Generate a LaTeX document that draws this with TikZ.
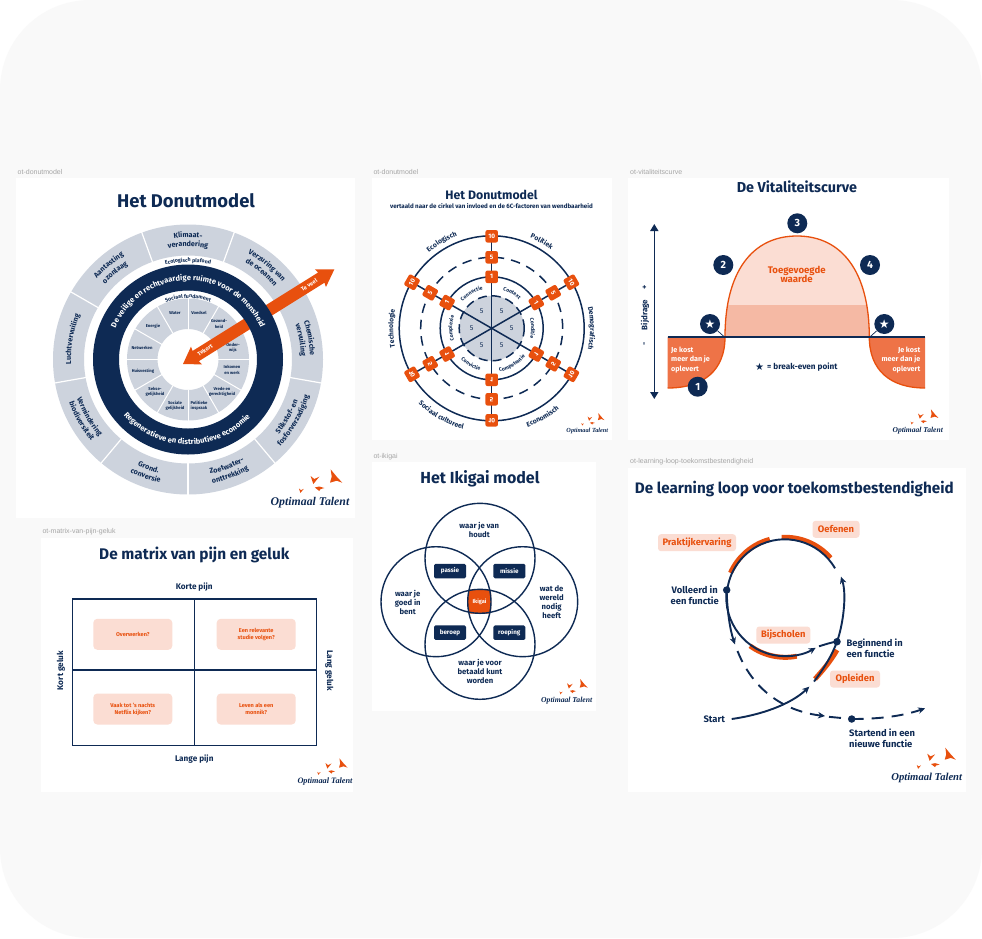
\documentclass[tikz,border=0pt]{standalone}
\usepackage{fontspec}
\setmainfont{Fira Sans}
\newfontfamily\djv{DejaVu Sans}
\newfontfamily\labf{Liberation Sans}
\newfontfamily\logof{Liberation Serif}
\usetikzlibrary{decorations.text,arrows.meta}
\definecolor{navy}{HTML}{0E2A54}
\definecolor{org}{HTML}{E8500E}
\definecolor{orgm}{HTML}{EE7347}
\definecolor{gr}{HTML}{CDD3DD}
\definecolor{peach}{HTML}{FBDDD3}
\definecolor{peachd}{HTML}{F5B9A4}
\definecolor{bgc}{HTML}{F9F9F9}
\newcommand{\fz}[2]{\fontsize{#1}{#2}\selectfont}
\newcommand{\topt}[7]{\path[decorate,decoration={text along path,text align=center,text={|#6|#7}}] ([shift={(#1,#2)}]#4+#5:#3) arc[start angle=#4+#5,end angle=#4-#5,radius=#3];}
\newcommand{\bott}[7]{\path[decorate,decoration={text along path,text align=center,text={|#6|#7}}] ([shift={(#1,#2)}]#4-#5:#3) arc[start angle=#4-#5,end angle=#4+#5,radius=#3];}
\newcommand{\logo}[4]{\begin{scope}[shift={(#1,-#2)},scale=#3,transform shape]
\node[text=navy,font=\logof\bfseries\itshape\fz{11.8}{12}] (logo#4) at (0,0) {Optimaal Talent};
\fill[org,shift={(26,26)}] (-5.3,7.3) -- (.7,0) -- (6.3,-6) -- (.7,-4) -- (-6,-6) -- (-4.3,0) -- cycle;
\fill[org,shift={(4.3,22.7)}] (-3.7,4) -- (0,1) -- (5,3.3) -- (-1,-4) -- cycle;
\fill[org,shift={(9.3,13.7)}] (-4.5,1.5) -- (0,2.5) -- (5,1) -- (1,-.2) -- (0,-2) -- cycle;
\fill[org,shift={(-9,12)},scale=.55] (-3.7,4) -- (0,1) -- (5,3.3) -- (-1,-4) -- cycle;
\end{scope}}
\tikzset{
 panel/.style={fill=white,draw=none},
 plabel/.style={anchor=west,text=black!35,font=\labf\fz{7}{8},inner sep=0},
 ttl/.style={text=navy,font=\bfseries\fz{#1}{#1},inner sep=0},
 nav/.style={text=navy,font=\bfseries\fz{#1}{#1},inner sep=0},
 seg/.style={text=navy,font=\bfseries\fz{4.2}{5.3},align=center,inner sep=0},
 sep/.style={draw=white,line width=1.2pt},
 navyline/.style={draw=navy,line width=1.9pt},
 badge/.style={circle,fill=navy,text=white,minimum size=20pt,inner sep=0,font=\bfseries\fz{10.5}{10}},
 ikibox/.style={fill=navy,text=white,rounded corners=1.5pt,minimum width=32pt,minimum height=14.5pt,inner sep=0,font=\bfseries\fz{6.3}{7}},
 pbox/.style={fill=peach,text=org,rounded corners=3pt,minimum height=17pt,inner sep=0,font=\bfseries\fz{9.4}{9}},
 mbox/.style={fill=peach,text=org,rounded corners=4pt,minimum width=79pt,minimum height=31pt,inner sep=0,align=center,font=\bfseries\fz{5.6}{7}},
 loopdot/.style={circle,fill=navy,minimum size=7.5pt,inner sep=0},
 wheel/.style={rounded corners=2pt,fill=org,text=white,minimum size=12.5pt,inner sep=0,font=\bfseries\fz{6.4}{6}},
 arrowl/.style={navyline,-{Stealth[length=7pt,width=6.5pt]}},
 dashl/.style={navyline,dash pattern=on 12pt off 8pt},
}
\begin{document}
\begin{tikzpicture}[x=1pt,y=1pt]
\useasboundingbox (0,-938) rectangle (982,0);
\fill[white] (0,-938) rectangle (982,0);
\fill[bgc,rounded corners=90pt] (0,-938) rectangle (982,0);
% panels
\fill[panel] (16,-178) rectangle (355,-518);
\fill[panel] (372,-178) rectangle (612,-440);
\fill[panel] (628,-178) rectangle (949,-440);
\fill[panel] (372,-462) rectangle (596,-711);
\fill[panel] (628,-468) rectangle (966,-792);
\fill[panel] (41,-538) rectangle (353,-792);
\node[plabel] (l1) at (17.5,-171.7) {ot-donutmodel};
\node[plabel] (l2) at (373.3,-171.7) {ot-donutmodel};
\node[plabel] (l3) at (630,-171.7) {ot-vitaliteitscurve};
\node[plabel] (l4) at (373.3,-456.7) {ot-ikigai};
\node[plabel] (l5) at (630,-461.3) {ot-learning-loop-toekomstbestendigheid};
\node[plabel] (l6) at (42.3,-531.3) {ot-matrix-van-pijn-geluk};
%%%%%% Donut 1
\node[ttl=18.4] (t1) at (186,-201) {Het Donutmodel};
\begin{scope}[shift={(188,-359.5)}]
\fill[gr,even odd rule] (0,0) circle (135) (0,0) circle (104);
\foreach \a in {110,70,30,-10,-50,-90,-130,-170,150} \draw[sep] (\a:103) -- (\a:136);
\fill[gr,even odd rule] (0,0) circle (61) (0,0) circle (30.5);
\foreach \a in {0,30,...,330} \draw[sep,line width=1pt] (\a:30) -- (\a:62);
\end{scope}
\node[seg] (s1) at (175,-313) {Water};
\node[seg] (s2) at (199,-313) {Voedsel};
\node[seg] (s3) at (219,-324) {Gezond-\\heid};
\node[seg] (s4) at (233,-348) {Onder-\\wijs};
\node[seg] (s5) at (232,-370) {Inkomen\\en werk};
\node[seg] (s6) at (222,-392) {Vrede en\\gerechtigheid};
\node[seg] (s7) at (199,-406) {Politieke\\inspraak};
\node[seg] (s8) at (175,-406) {Sociale\\gelijkheid};
\node[seg] (s9) at (155,-392) {Sekse-\\gelijkheid};
\node[seg] (s10) at (143,-371) {Huisvesting};
\node[seg] (s11) at (142,-348) {Netwerken};
\node[seg] (s12) at (153,-326) {Energie};
\begin{scope}[shift={(183,-364)},rotate=32]
\fill[org] (0,0) -- (16,10.5) -- (15,6) -- (163,6) -- (162,10.5) -- (178.4,0) -- (162,-10.5) -- (163,-6) -- (15,-6) -- (16,-10.5) -- cycle;
\end{scope}
\fill[navy,even odd rule] (188,-359.5) circle (95) (188,-359.5) circle (69);
\def\fO{\bfseries\fz{7.2}{8}\color{navy}}
\def\fW{\bfseries\fz{7.6}{8}\color{white}}
\def\fS{\bfseries\fz{5.3}{6}\color{navy}}
\topt{188}{-359.5}{122}{90}{19}{\fO}{Klimaat-}
\topt{188}{-359.5}{113}{90}{19}{\fO}{verandering}
\topt{188}{-359.5}{122}{50}{19}{\fO}{Verzuring van}
\topt{188}{-359.5}{113}{50}{19}{\fO}{de oceanen}
\topt{188}{-359.5}{122}{10}{19}{\fO}{Chemische}
\topt{188}{-359.5}{113}{10}{19}{\fO}{vervuiling}
\bott{188}{-359.5}{117.5}{-30}{19}{\fO}{Stikstof- en}
\bott{188}{-359.5}{126.5}{-30}{19}{\fO}{fosforverzadiging}
\bott{188}{-359.5}{116.5}{-70}{19}{\fO}{Zoetwater-}
\bott{188}{-359.5}{126}{-70}{19}{\fO}{onttrekking}
\bott{188}{-359.5}{117.5}{-110}{19}{\fO}{Grond.}
\bott{188}{-359.5}{126.5}{-110}{19}{\fO}{conversie}
\bott{188}{-359.5}{117.5}{-150}{19}{\fO}{Vermindering}
\bott{188}{-359.5}{126.5}{-150}{19}{\fO}{biodiversiteit}
\topt{188}{-359.5}{117}{170}{19}{\fO}{Luchtvervuiling}
\topt{188}{-359.5}{122}{130}{19}{\fO}{Aantasting}
\topt{188}{-359.5}{112}{130}{19}{\fO}{ozonlaag}
\topt{188}{-359.5}{97.5}{90}{30}{\fS}{Ecologisch plafond}
\topt{188}{-359.5}{61.5}{90}{50}{\fS}{Sociaal fundament}
\topt{188}{-359.5}{79}{90}{75}{\fW}{De veilige en rechtvaardige ruimte voor de mensheid}
\bott{188}{-359.5}{85}{-91}{60}{\fW}{Regeneratieve en distributieve economie}
\node[rotate=32,text=white,font=\bfseries\fz{5.6}{6},inner sep=0] (tv) at (309,-285) {Te veel};
\node[rotate=32,text=white,font=\bfseries\fz{5.6}{6},inner sep=0] (tk) at (205,-350) {Tekort};
\logo{310}{502.7}{1}{a}
%%%%%% Donut 2
\node[ttl=12.3] (t2) at (491.5,-195) {Het Donutmodel};
\node[nav=6.2] (t2b) at (491.5,-206) {vertaald naar de cirkel van invloed en de 6C-factoren van wendbaarheid};
\begin{scope}[shift={(491.7,-328.3)}]
\coordinate (dc) at (0,0);
\fill[gr] (0,0) circle (32.5);
\draw[navy,line width=1.5pt,dash pattern=on 9pt off 5pt] (0,0) circle (32.5);
\draw[navy,line width=1.5pt] (0,0) circle (51.5);
\draw[navy,line width=1.5pt,dash pattern=on 9.5pt off 7pt] (0,0) circle (71);
\draw[navy,line width=1.5pt] (0,0) circle (92.5);
\foreach \a in {90,30,150,-90,-30,-150} {\coordinate (e\a) at (\a:92); \draw[navy,line width=1.5pt] (dc) -- (e\a);}
\foreach \a/\rt/\ys in {90/0/1,30/-60/1,150/60/1,-90/0/-1,-30/-60/-1,-150/60/-1} {
 \foreach \r/\v in {92/10,71/5,51.5/1} {
  \node[wheel,yscale=\ys,rotate=\rt] (n\a-\v) at (\a:\r) {\v};
 }
}
\foreach \a in {120,60,0,-60,-120,180} \node[text=navy,font=\fz{7}{7},inner sep=0] (f\a) at (\a:20) {5};
\end{scope}
\def\fC{\bfseries\fz{5.2}{6}\color{navy}}
\def\fD{\bfseries\fz{6.8}{7}\color{navy}}
\topt{491.7}{-328.3}{39.5}{120}{29}{\fC}{Connectie}
\topt{491.7}{-328.3}{39.5}{60}{29}{\fC}{Context}
\topt{491.7}{-328.3}{39.5}{0}{29}{\fC}{Conditie}
\topt{491.7}{-328.3}{39.5}{180}{29}{\fC}{Complexie}
\bott{491.7}{-328.3}{44}{-60}{29}{\fC}{Competentie}
\bott{491.7}{-328.3}{44}{-120}{29}{\fC}{Convictie}
\topt{491.7}{-328.3}{98.5}{120}{29}{\fD}{Ecologisch}
\topt{491.7}{-328.3}{98.5}{60}{29}{\fD}{Politiek}
\topt{491.7}{-328.3}{98.5}{0}{29}{\fD}{Demografisch}
\topt{491.7}{-328.3}{98.5}{180}{29}{\fD}{Technologie}
\bott{491.7}{-328.3}{105}{-60}{29}{\fD}{Economisch}
\bott{491.7}{-328.3}{105}{-120}{29}{\fD}{Sociaal cultureel}
\logo{587.3}{430.7}{.53}{b}
%%%%%% Vitaliteitscurve
\node[ttl=14.4] (t3) at (797,-187) {De Vitaliteitscurve};
\def\dome{(725,-337) .. controls (725,-272) and (752,-236) .. (797,-236) .. controls (842,-236) and (869.3,-272) .. (869.3,-337)}
\fill[orgm] (667.7,-337) -- (667.7,-388) .. controls (704,-388) and (725,-370) .. (725,-337) -- cycle;
\fill[orgm] (925,-337) -- (925,-388) .. controls (890,-388) and (869.3,-370) .. (869.3,-337) -- cycle;
\fill[peach] \dome -- cycle;
\begin{scope}
\clip (700,-305) rectangle (900,-337);
\fill[peachd] \dome -- cycle;
\end{scope}
\draw[org,line width=1.3pt] (667.7,-388) .. controls (704,-388) and (725,-370) .. \dome .. controls (869.3,-370) and (890,-388) .. (925,-388);
\coordinate (bl0) at (667.7,-337);
\coordinate (bl1) at (925,-337);
\draw[navy,line width=1.4pt] (bl0) -- (bl1);
\coordinate (beL) at (724.5,-337);
\coordinate (beR) at (869.8,-337);
\node[badge] (b3) at (797.3,-223.3) {3};
\node[badge] (b2) at (723.3,-265) {2};
\node[badge] (b4) at (870,-265) {4};
\node[badge] (b1) at (697.7,-386.7) {1};
\node[badge,font=\djv\fz{12}{12}] (bsL) at (710,-324) {★};
\node[badge,font=\djv\fz{12}{12}] (bsR) at (884.3,-324) {★};
\draw[navy,line width=.7pt] (bsL) -- (beL);
\draw[navy,line width=.7pt] (bsR) -- (beR);
\node[align=center,text=org,font=\bfseries\fz{9.6}{9.5},inner sep=0] (tw) at (796.7,-274.3) {Toegevoegde\\waarde};
\node[align=left,anchor=north west,text=white,font=\bfseries\fz{7.2}{9.2},inner sep=0] (jk1) at (671,-347) {Je kost\\meer dan je\\oplevert};
\node[align=right,anchor=north east,text=white,font=\bfseries\fz{7.2}{9.2},inner sep=0] (jk2) at (920.5,-347) {Je kost\\meer dan je\\oplevert};
\node[text=navy,font=\djv\fz{10}{10},inner sep=0] (bs) at (759.5,-367) {★};
\node[nav=8.2,anchor=west] (be) at (767,-367) {= break-even point};
\coordinate (va) at (654.3,-224);
\coordinate (vb) at (654.3,-399);
\draw[navy,line width=1.5pt,{Triangle[length=7pt,width=8pt]}-{Triangle[length=7pt,width=8pt]}] (va) -- (vb);
\node[nav=8,rotate=90] (bp) at (645,-287) {+};
\node[nav=8,rotate=90] (bd) at (645,-315) {Bijdrage};
\node[nav=8,rotate=90] (bm) at (645,-344) {-};
\logo{917.7}{430.7}{.64}{c}
%%%%%% Ikigai
\node[ttl=16] (t4) at (480,-479) {Het Ikigai model};
\node[fill=org,rounded corners=3pt,minimum width=23pt,minimum height=24pt,inner sep=0,text=white,font=\bfseries\fz{5.6}{6}] (iki) at (479.5,-601.7) {Ikigai};
\foreach \n/\x/\y in {c1/480/558.3,c2/480/644.3,c3/436/601.7,c4/522.7/601.7} \node[circle,draw=navy,line width=1.4pt,minimum size=110pt,inner sep=0,outer sep=0] (\n) at (\x,-\y) {};
\node[ikibox] (i1) at (450,-571) {passie};
\node[ikibox] (i2) at (509.3,-571) {missie};
\node[ikibox] (i3) at (450,-632.7) {beroep};
\node[ikibox] (i4) at (509.3,-632.7) {roeping};
\tikzset{ikil/.style={text=navy,align=center,inner sep=0,font=\bfseries\fz{7.7}{9.2}}}
\node[ikil] (w1) at (479.3,-530.3) {waar je van\\houdt};
\node[ikil] (w2) at (407.7,-602.3) {waar je\\goed in\\bent};
\node[ikil] (w3) at (551.7,-602.3) {wat de\\wereld\\nodig\\heeft};
\node[ikil] (w4) at (480,-671.7) {waar je voor\\betaald kunt\\worden};
\logo{566.7}{700.7}{.65}{d}
%%%%%% Learning loop
\node[ttl=15.2] (t5) at (794.3,-489) {De learning loop voor toekomstbestendigheid};
\coordinate (cc) at (785.3,-597.3);
% orange arcs
\draw[org,line width=5pt] ([shift={(785.3,-597.3)}]156:60) arc[start angle=156,end angle=105,radius=60];
\draw[org,line width=5pt] ([shift={(785.3,-597.3)}]93.5:60) arc[start angle=93.5,end angle=41,radius=60];
\draw[org,line width=5pt] ([shift={(785.3,-597.3)}]-126:60) arc[start angle=-126,end angle=-79,radius=60];
\draw[org,line width=5pt] (837,-650) .. controls (830,-662) and (823,-670) .. (815,-679);
\node[loopdot] (dA) at (726.7,-590) {};
\node[loopdot] (dB) at (837,-641.7) {};
\node[loopdot] (dC) at (851.7,-719) {};
\coordinate (s0) at (731.7,-719);
\coordinate (s1) at (809.3,-686.7);
\coordinate (s2) at (814,-681.5);
\coordinate (s3) at (841,-576.7);
\coordinate (s4) at (835,-568.3);
\coordinate (s5) at (815.7,-647.7);
\coordinate (s6) at (819,-646.3);
\coordinate (s7) at (735,-644.3);
\coordinate (s8) at (737.5,-651);
\coordinate (s9) at (825,-716);
\coordinate (s10) at (829,-716.8);
\coordinate (s11) at (925,-708.3);
\draw[arrowl] (s0) .. controls (760,-715) and (790,-705) .. (s1);
\draw[navyline] (s2) .. controls (825,-667) and (832,-655) .. (dB.center);
\draw[arrowl] (dB.center) .. controls (843,-625) and (847,-595) .. (s3);
\draw[navyline] (s4) arc[start angle=30,end angle=173,radius=58];
\draw[arrowl] (dA.center) arc[start angle=173,end angle=301,radius=59];
\draw[navyline] (s6) .. controls (825,-644.5) and (832,-642) .. (dB.center);
\draw[arrowl] (dA.center) .. controls (727,-610) and (730,-630) .. (s7);
\draw[dashl,-{Stealth[length=7pt,width=6.5pt]}] (s8) .. controls (755,-695) and (790,-712) .. (s9);
\draw[dashl] (s10) -- (dC.center);
\draw[dashl,-{Stealth[length=7pt,width=6.5pt]}] (dC.center) .. controls (875,-719) and (900,-717) .. (s11);
\node[pbox,minimum width=78pt] (o1) at (697,-542.7) {Praktijkervaring};
\node[pbox,minimum width=47pt] (o2) at (836,-529.3) {Oefenen};
\node[pbox,minimum width=54pt] (o3) at (783.3,-635) {Bijscholen};
\node[pbox,minimum width=50pt] (o4) at (855,-679) {Opleiden};
\tikzset{lt/.style={text=navy,inner sep=0,font=\bfseries\fz{9.4}{11}}}
\node[lt,align=center] (v1) at (694.7,-595) {Volleerd in\\een functie};
\node[lt,align=left,anchor=west] (v2) at (846.3,-648) {Beginnend in\\een functie};
\node[lt] (v3) at (714.3,-719) {Start};
\node[lt,align=left,anchor=west] (v4) at (849,-738) {Startend in een\\nieuwe functie};
\logo{926.7}{777.7}{.9}{e}
%%%%%% Matrix
\node[ttl=15.4] (t6) at (194.3,-555) {De matrix van pijn en geluk};
\draw[navy,line width=1.4pt] (72.7,-599) rectangle (316.7,-745.3);
\coordinate (mt) at (194.3,-599); \coordinate (mb) at (194.3,-745.3);
\coordinate (ml) at (72.7,-670); \coordinate (mr) at (316.7,-670);
\draw[navy,line width=1.4pt] (mt) -- (mb);
\draw[navy,line width=1.4pt] (ml) -- (mr);
\node[nav=8.2] (m1) at (194.3,-586.7) {Korte pijn};
\node[nav=8.2] (m2) at (194.3,-759.3) {Lange pijn};
\node[nav=8.2,rotate=90] (m3) at (61,-670.7) {Kort geluk};
\node[nav=8.2,rotate=-90] (m4) at (329.3,-670.7) {Lang geluk};
\node[mbox] (q1) at (132.8,-634.3) {Overwerken?};
\node[mbox] (q2) at (256.2,-634.3) {Een relevante\\studie volgen?};
\node[mbox] (q3) at (132.8,-709) {Vaak tot 's nachts\\Netflix kijken?};
\node[mbox] (q4) at (256.2,-709) {Leven als een\\monnik?};
\logo{325}{781.7}{.7}{f}
\end{tikzpicture}
\end{document}
